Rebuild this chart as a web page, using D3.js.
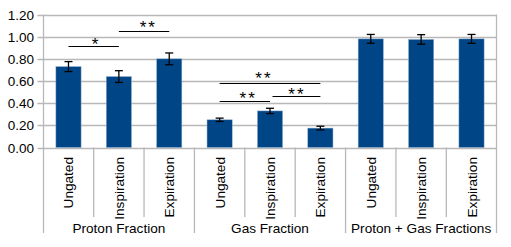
<!DOCTYPE html>
<html><head><meta charset="utf-8">
<script src="https://cdn.jsdelivr.net/npm/d3@7"></script>
<style>
html,body{margin:0;padding:0;background:#fff;}
svg{display:block;font-family:"Liberation Sans",Arial,sans-serif;}
</style></head>
<body>
<svg id="chart" width="511" height="247"></svg>
<script>
const groups = ["Proton Fraction", "Gas Fraction", "Proton + Gas Fractions"];
const phases = ["Ungated", "Inspiration", "Expiration"];
const values = [0.73, 0.64, 0.80, 0.25, 0.33, 0.175, 0.98, 0.975, 0.98];
const errors = [0.045, 0.053, 0.053, 0.015, 0.024, 0.017, 0.04, 0.043, 0.04];
const yTicks = [0, 0.2, 0.4, 0.6, 0.8, 1.0, 1.2];
// significance brackets: from bar index, to bar index, level (value units), label
const sigFrom = [0, 1, 3, 3, 4.05];
const sigTo = [1, 2, 5, 4, 5];
const sigLevel = [0.915, 1.05, 0.58, 0.42, 0.465];
const sigLabel = ["*", "**", "**", "**", "**"];
const sigTextPos = [0.527, 1.566, 3.86, 3.547, 4.514];
const sigTextLevel = [0.967, 1.122, 0.660, 0.483, 0.513];

const cats = [];
groups.forEach((g, gi) => phases.forEach((p, pi) => cats.push({g, p, id: gi * 3 + pi})));

const svg = d3.select("#chart");
const L = 43.5, R = 496.5, T = 14.5, B = 147.5;
const x = d3.scaleBand().domain(cats.map(c => c.id)).range([L - 0.2, R + 0.2]).paddingInner(0.5).paddingOuter(0.25);
const xc = d3.scaleLinear().domain([0, 1]).range([x(0) + x.bandwidth() / 2, x(1) + x.bandwidth() / 2]);
const y = d3.scaleLinear().domain([0, 1.2]).range([B, T]);
const grid = "#b8b8b8";

// gridlines
svg.append("g").selectAll("line").data(yTicks).join("line")
  .attr("x1", L - 6).attr("x2", R)
  .attr("y1", d => Math.round(y(d)) + 0.5).attr("y2", d => Math.round(y(d)) + 0.5)
  .attr("stroke", grid).attr("stroke-width", 1.3);
// y axis labels
svg.append("g").selectAll("text").data(yTicks).join("text")
  .attr("x", 34).attr("y", d => Math.round(y(d)) + 5.3)
  .attr("text-anchor", "end").attr("font-size", 13.5).attr("fill", "#000")
  .text(d => d3.format(".2f")(d));

// bars
svg.append("g").selectAll("rect").data(values).join("rect")
  .attr("x", (d, i) => x(i)).attr("width", x.bandwidth())
  .attr("y", d => y(d)).attr("height", d => y(0) - y(d))
  .attr("fill", "#004586").attr("stroke", "#8fb0d0").attr("stroke-width", 0.5);

// error bars
const eb = svg.append("g").attr("stroke", "#000").attr("stroke-width", 1.3);
values.forEach((v, i) => {
  const cx = xc(i);
  eb.append("line").attr("x1", cx).attr("x2", cx).attr("y1", y(v + errors[i])).attr("y2", y(v - errors[i]));
  eb.append("line").attr("x1", cx - 4).attr("x2", cx + 4).attr("y1", y(v + errors[i])).attr("y2", y(v + errors[i]));
  eb.append("line").attr("x1", cx - 4).attr("x2", cx + 4).attr("y1", y(v - errors[i])).attr("y2", y(v - errors[i]));
});

// axes lines
svg.append("line").attr("x1", L).attr("x2", L).attr("y1", T).attr("y2", 233).attr("stroke", grid).attr("stroke-width", 1.3);
svg.append("line").attr("x1", R).attr("x2", R).attr("y1", T).attr("y2", 233).attr("stroke", grid).attr("stroke-width", 1.3);
const step = x.step();
const bounds = d3.range(1, 9);
svg.append("g").selectAll("line").data(bounds).join("line")
  .attr("x1", k => x(k) - x.paddingInner() * step / 2).attr("x2", k => x(k) - x.paddingInner() * step / 2)
  .attr("y1", B).attr("y2", k => k % 3 === 0 ? 233 : 217)
  .attr("stroke", grid).attr("stroke-width", 1.3);

// category labels
svg.append("g").selectAll("text").data(cats).join("text")
  .attr("transform", c => `translate(${xc(c.id) + 5},157) rotate(-90)`)
  .attr("text-anchor", "end").attr("font-size", 13.6).attr("fill", "#000")
  .text(c => c.p);
// group labels
svg.append("g").selectAll("text").data(groups).join("text")
  .attr("x", (g, gi) => xc(gi * 3 + 1)).attr("y", 232.5)
  .attr("text-anchor", "middle").attr("font-size", 13.6).attr("fill", "#000")
  .text(g => g);

// significance brackets
const sg = svg.append("g");
const fs = 17;
sigFrom.forEach((f, i) => {
  const yy = Math.round(y(sigLevel[i])) + 0.5;
  sg.append("line").attr("x1", xc(f)).attr("x2", xc(sigTo[i])).attr("y1", yy).attr("y2", yy)
    .attr("stroke", "#000").attr("stroke-width", 1.2);
  sg.append("text").attr("x", xc(sigTextPos[i]) + 1).attr("y", y(sigTextLevel[i]) + fs * 0.57)
    .attr("text-anchor", "middle").attr("font-size", fs).attr("letter-spacing", 2)
    .attr("fill", "#000").text(sigLabel[i]);
});
</script>
</body></html>
